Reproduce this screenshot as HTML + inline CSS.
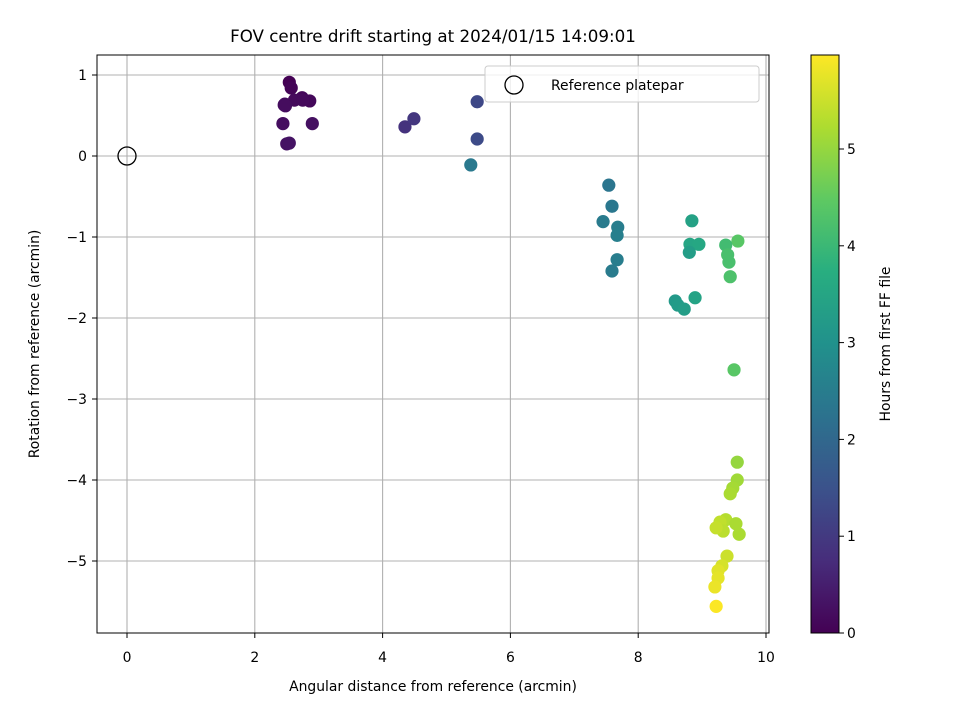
<!DOCTYPE html>
<html><head><meta charset="utf-8"><style>
body{margin:0;background:#fff}
svg{font-family:"DejaVu Sans","Liberation Sans",sans-serif}
</style></head><body>
<svg id="chart" width="960" height="720" xmlns="http://www.w3.org/2000/svg">
<defs>
<linearGradient id="vir" x1="0" y1="1" x2="0" y2="0">
<stop offset="0" stop-color="#440154"/><stop offset="0.125" stop-color="#472d7b"/><stop offset="0.25" stop-color="#3b528b"/><stop offset="0.375" stop-color="#2c728e"/><stop offset="0.5" stop-color="#21918c"/><stop offset="0.625" stop-color="#28ae80"/><stop offset="0.75" stop-color="#5ec962"/><stop offset="0.875" stop-color="#addc30"/><stop offset="1" stop-color="#fde725"/>
</linearGradient>
</defs>
<g id="grid"></g>
<g id="points"></g>
<rect x="97" y="55" width="672" height="578" fill="none" stroke="#000" stroke-width="1"/>
<g id="ticks"></g>
<text x="433" y="42" font-size="16.7" text-anchor="middle">FOV centre drift starting at 2024/01/15 14:09:01</text>
<text x="433" y="691" font-size="13.9" text-anchor="middle">Angular distance from reference (arcmin)</text>
<text transform="translate(39,344) rotate(-90)" font-size="13.9" text-anchor="middle">Rotation from reference (arcmin)</text>
<g>
<rect x="485" y="66" width="274" height="36" rx="3" fill="#fff" fill-opacity="0.8" stroke="#ccc"/>
<circle cx="514" cy="85" r="9" fill="none" stroke="#000" stroke-width="1.3"/>
<text x="551" y="90" font-size="13.9">Reference platepar</text>
</g>
<rect x="811" y="55" width="28" height="578" fill="url(#vir)" stroke="#000" stroke-width="1"/>
<g id="cbticks"></g>
<text transform="translate(890,344) rotate(-90)" font-size="13.9" text-anchor="middle">Hours from first FF file</text>
</svg>
<script>
const xs=[2.54,2.57,2.74,2.86,2.62,2.47,2.46,2.44,2.90,2.50,2.54,2.48,2.75,4.35,4.49,5.48,5.48,5.38,7.54,7.59,7.45,7.68,7.67,7.67,7.59,8.84,8.81,8.95,8.80,8.58,8.62,8.72,8.89,9.56,9.37,9.40,9.42,9.44,9.50,9.55,9.55,9.48,9.44,9.37,9.28,9.33,9.22,9.53,9.58,9.39,9.31,9.25,9.25,9.20,9.22];
const ys=[0.91,0.84,0.72,0.68,0.69,0.64,0.63,0.40,0.40,0.15,0.16,0.62,0.69,0.36,0.46,0.67,0.21,-0.11,-0.36,-0.62,-0.81,-0.88,-0.98,-1.28,-1.42,-0.80,-1.09,-1.09,-1.19,-1.79,-1.84,-1.89,-1.75,-1.05,-1.10,-1.22,-1.31,-1.49,-2.64,-3.78,-4.0,-4.10,-4.17,-4.49,-4.52,-4.63,-4.59,-4.54,-4.67,-4.94,-5.06,-5.12,-5.21,-5.32,-5.56];
const hours=[0.0,0.05,0.1,0.12,0.15,0.18,0.2,0.22,0.25,0.28,0.3,0.2,0.15,0.85,0.95,1.3,1.35,2.4,2.3,2.35,2.45,2.5,2.55,2.5,2.45,3.4,3.5,3.55,3.3,3.2,3.25,3.3,3.45,4.4,4.1,4.2,4.2,4.25,4.4,5.0,5.1,5.15,5.2,5.3,5.4,5.35,5.45,5.2,5.2,5.5,5.6,5.7,5.75,5.8,5.95];
const xTicks=[0,2,4,6,8,10];
const yTicks=[1,0,-1,-2,-3,-4,-5];
const cTicks=[0,1,2,3,4,5];
const X=v=>127+v*63.9, Y=v=>156-v*81, C=v=>633-v*96.8;
const NS="http://www.w3.org/2000/svg";
function mk(t,a,p){const e=document.createElementNS(NS,t);for(const k in a)e.setAttribute(k,a[k]);p.appendChild(e);return e;}
const vir=[[68,1,84],[71,45,123],[59,82,139],[44,114,142],[33,145,140],[40,174,128],[94,201,98],[173,220,48],[253,231,37]];
function col(h){let t=Math.max(0,Math.min(1,h/5.97))*8;const i=Math.min(7,Math.floor(t)),f=t-i;const c=vir[i].map((v,k)=>Math.round(v+(vir[i+1][k]-v)*f));return `rgb(${c})`;}
const g=document.getElementById('grid'),tk=document.getElementById('ticks'),pts=document.getElementById('points'),cb=document.getElementById('cbticks');
xTicks.forEach(v=>{
const l=mk('line',{x1:X(v),x2:X(v),y1:55,y2:633,stroke:'#b0b0b0','stroke-width':1.1},g);


const m=mk('line',{x1:X(v),x2:X(v),y1:633,y2:638,stroke:'#000'},tk);


const t=mk('text',{x:X(v),y:662,'font-size':13.9,'text-anchor':'middle'},tk);t.textContent=v;


});
yTicks.forEach(v=>{
const l=mk('line',{x1:97,x2:769,y1:Y(v),y2:Y(v),stroke:'#b0b0b0','stroke-width':1.1},g);


const m=mk('line',{x1:92,x2:97,y1:Y(v),y2:Y(v),stroke:'#000'},tk);


const t=mk('text',{x:87,y:Y(v)+5,'font-size':13.9,'text-anchor':'end'},tk);t.textContent=(v<0?'\u2212'+(-v):v);


});
cTicks.forEach(v=>{
const m=mk('line',{x1:839,x2:844,y1:C(v),y2:C(v),stroke:'#000'},cb);


const t=mk('text',{x:847,y:C(v)+5,'font-size':13.9},cb);t.textContent=v;


});
xs.forEach((x,i)=>{
const c=mk('circle',{cx:X(x),cy:Y(ys[i]),r:6.6,fill:col(hours[i])},pts);


});
const r=mk('circle',{cx:X(0),cy:Y(0),r:9,fill:'none',stroke:'#000','stroke-width':1.3},pts);


</script>
</body></html>
